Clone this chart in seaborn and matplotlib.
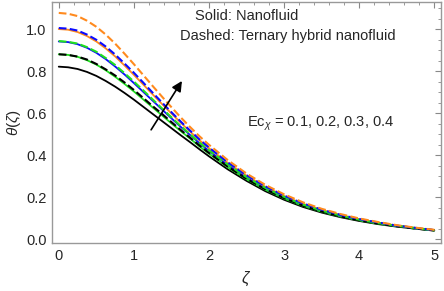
import numpy as np
import pandas as pd
import matplotlib
matplotlib.use('Agg')
import matplotlib.pyplot as plt
from matplotlib.ticker import MultipleLocator
import seaborn as sns

# similarity variable (denser where the profiles bend)
zeta = [0.000, 0.125, 0.250, 0.375, 0.500, 0.625, 0.750, 0.875, 1.000, 1.125,
        1.250, 1.375, 1.500, 1.625, 1.750, 1.875, 2.000, 2.250, 2.500, 2.750,
        3.000, 3.250, 3.500, 3.750, 4.000, 4.250, 4.500, 4.750, 5.000]

# Solid: nanofluid, Ec_x = 0.1 .. 0.4
nf_01 = [0.822, 0.819, 0.811, 0.797, 0.778, 0.754, 0.727, 0.697, 0.665, 0.631,
         0.597, 0.563, 0.529, 0.495, 0.462, 0.428, 0.395, 0.333, 0.278, 0.229,
         0.188, 0.154, 0.127, 0.105, 0.087, 0.072, 0.060, 0.050, 0.041]
nf_02 = [0.881, 0.878, 0.869, 0.853, 0.832, 0.805, 0.774, 0.740, 0.704, 0.666,
         0.628, 0.590, 0.552, 0.515, 0.479, 0.442, 0.408, 0.343, 0.286, 0.236,
         0.194, 0.159, 0.131, 0.108, 0.090, 0.074, 0.062, 0.051, 0.042]
nf_03 = [0.942, 0.939, 0.929, 0.912, 0.888, 0.858, 0.823, 0.785, 0.744, 0.702,
         0.660, 0.618, 0.576, 0.535, 0.496, 0.457, 0.421, 0.354, 0.294, 0.243,
         0.200, 0.164, 0.135, 0.112, 0.093, 0.077, 0.063, 0.052, 0.043]
nf_04 = [1.001, 0.998, 0.987, 0.968, 0.942, 0.909, 0.871, 0.828, 0.783, 0.737,
         0.690, 0.644, 0.599, 0.555, 0.512, 0.471, 0.434, 0.364, 0.303, 0.250,
         0.206, 0.169, 0.140, 0.116, 0.095, 0.079, 0.065, 0.054, 0.044]

# Dashed: ternary hybrid nanofluid
thnf_01 = [0.881, 0.878, 0.870, 0.856, 0.835, 0.809, 0.780, 0.747, 0.711, 0.673,
           0.634, 0.597, 0.558, 0.520, 0.483, 0.446, 0.411, 0.346, 0.288, 0.238,
           0.196, 0.160, 0.132, 0.109, 0.090, 0.075, 0.062, 0.051, 0.042]
thnf_02 = [0.944, 0.940, 0.932, 0.915, 0.893, 0.863, 0.830, 0.791, 0.751, 0.709,
           0.666, 0.623, 0.581, 0.539, 0.499, 0.460, 0.424, 0.356, 0.296, 0.245,
           0.202, 0.165, 0.136, 0.113, 0.093, 0.077, 0.064, 0.053, 0.043]
thnf_03 = [1.006, 1.003, 0.994, 0.975, 0.950, 0.918, 0.880, 0.837, 0.793, 0.746,
           0.698, 0.651, 0.605, 0.560, 0.517, 0.475, 0.437, 0.366, 0.305, 0.252,
           0.208, 0.171, 0.141, 0.116, 0.096, 0.080, 0.065, 0.054, 0.044]
thnf_04 = [1.078, 1.074, 1.063, 1.041, 1.012, 0.975, 0.932, 0.884, 0.834, 0.782,
           0.730, 0.679, 0.629, 0.580, 0.534, 0.490, 0.450, 0.377, 0.313, 0.259,
           0.214, 0.176, 0.145, 0.120, 0.099, 0.082, 0.067, 0.055, 0.045]

colors = ['black', '#1fe01f', '#0a0aff', '#ff8a1e']

sns.set_style('white')
plt.rcParams['font.family'] = ['Liberation Sans', 'DejaVu Sans']
plt.rcParams['mathtext.fontset'] = 'custom'
plt.rcParams['mathtext.rm'] = 'Liberation Sans'
plt.rcParams['mathtext.it'] = 'Liberation Sans:italic'

fig = plt.figure(figsize=(4.44, 2.91), dpi=100)
ax = fig.add_axes([52/444, 1-243/291, 389/444, 241/291])

for c, y in zip(colors, [nf_01, nf_02, nf_03, nf_04]):
    sns.lineplot(x=zeta, y=y, ax=ax, color=c, lw=1.3)
for c, y in zip(colors, [thnf_01, thnf_02, thnf_03, thnf_04]):
    sns.lineplot(x=zeta, y=y, ax=ax, color=c, lw=1.5, dashes=(3.3, 2.1), linestyle='--')

ax.set_xlim(-0.09, 5.09)
ax.set_ylim(-0.018, 1.13)
ax.xaxis.set_major_locator(MultipleLocator(1))
ax.xaxis.set_minor_locator(MultipleLocator(0.2))
ax.yaxis.set_major_locator(MultipleLocator(0.2))
ax.yaxis.set_minor_locator(MultipleLocator(0.05))
ax.tick_params(which='both', direction='in', top=True, right=True, color='#888888',
               labelsize=10.5, pad=4)
ax.tick_params(which='major', length=4, width=0.8)
ax.tick_params(which='minor', length=2.2, width=0.6)
for s in ax.spines.values():
    s.set_color('#999999')
    s.set_linewidth(1.0)

ax.set_xlabel(r'$\zeta$', fontsize=11.5, labelpad=5)
ax.set_ylabel(r'$\theta(\zeta)$', fontsize=11, labelpad=2)

ax.text(2.50, 1.065, 'Solid: Nanofluid', fontsize=10.5, ha='center', va='center')
ax.text(3.05, 0.97, 'Dashed: Ternary hybrid nanofluid', fontsize=10.5, ha='center', va='center')
ax.text(3.48, 0.55, r'Ec$_\chi$ = 0.1, 0.2, 0.3, 0.4', fontsize=10.5, ha='center', va='center')
ax.annotate('', xy=(1.66, 0.765), xytext=(1.21, 0.51),
            arrowprops=dict(arrowstyle='-|>', color='black', lw=1.2, mutation_scale=15))

fig.savefig('out.png', dpi=100)
